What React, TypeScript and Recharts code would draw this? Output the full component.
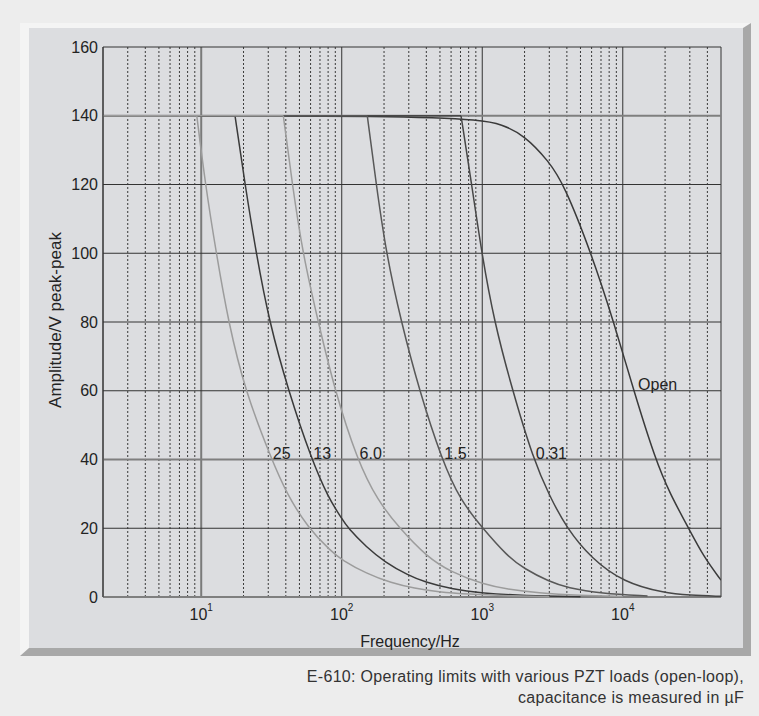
import { LineChart, Line, XAxis, YAxis, ReferenceLine, ReferenceDot } from 'recharts'

const FONT = '"Liberation Sans", Arial, Helvetica, sans-serif'
const INK = '#232323'

const Y_TICKS = [0, 20, 40, 60, 80, 100, 120, 140, 160]
const X_TICKS = [10, 100, 1000, 10000]
const MINOR_X = [
  3, 4, 5, 6, 7, 8, 9,
  20, 30, 40, 50, 60, 70, 80, 90,
  200, 300, 400, 500, 600, 700, 800, 900,
  2000, 3000, 4000, 5000, 6000, 7000, 8000, 9000,
  20000, 30000, 40000,
]
const THIN_Y = [20, 60, 80, 100, 120, 160]
const THICK_Y = [0, 40, 140]

// amplitude (V peak-peak) against frequency (Hz)
// first two points of each capacitive load = flat limit up to the corner
const C25 = [
  { f: 2, v: 140 }, { f: 9.3, v: 140 }, { f: 10.7, v: 120 }, { f: 12.8, v: 100 },
  { f: 15.6, v: 80 }, { f: 20.5, v: 60 }, { f: 31.7, v: 40 }, { f: 40.6, v: 30 },
  { f: 57.8, v: 20 }, { f: 84.5, v: 13.2 }, { f: 100, v: 10.8 }, { f: 150, v: 6.8 },
  { f: 225, v: 4.1 }, { f: 330, v: 2.5 }, { f: 483, v: 1.5 }, { f: 800, v: 0.8 },
  { f: 1500, v: 0.35 }, { f: 3000, v: 0.1 },
]
const C13 = [
  { f: 2, v: 140 }, { f: 17.4, v: 140 }, { f: 20.5, v: 120 }, { f: 24.6, v: 100 },
  { f: 30.5, v: 80 }, { f: 41.7, v: 60 }, { f: 61, v: 40 }, { f: 80, v: 29 },
  { f: 100, v: 22.8 }, { f: 111, v: 20 }, { f: 150, v: 14.5 }, { f: 202, v: 10.2 },
  { f: 300, v: 6.2 }, { f: 388, v: 4.4 }, { f: 600, v: 2.3 }, { f: 1000, v: 1.1 },
  { f: 2000, v: 0.4 }, { f: 5000, v: 0.1 },
]
const C6 = [
  { f: 2, v: 140 }, { f: 38.4, v: 140 }, { f: 44.5, v: 120 }, { f: 52.7, v: 100 },
  { f: 68, v: 80 }, { f: 89.4, v: 60 }, { f: 128.5, v: 40 }, { f: 180, v: 28 },
  { f: 258, v: 20 }, { f: 400, v: 11.8 }, { f: 600, v: 7.2 }, { f: 1030, v: 3.6 },
  { f: 1500, v: 2.3 }, { f: 2470, v: 1.2 }, { f: 5000, v: 0.45 }, { f: 10000, v: 0.15 },
]
const C15 = [
  { f: 2, v: 140 }, { f: 152, v: 140 }, { f: 176, v: 120 }, { f: 207, v: 100 },
  { f: 265, v: 80 }, { f: 357, v: 60 }, { f: 515, v: 40 }, { f: 700, v: 28 },
  { f: 1007, v: 20 }, { f: 1500, v: 12 }, { f: 1987, v: 8.2 }, { f: 3000, v: 4.5 },
  { f: 4036, v: 2.7 }, { f: 7000, v: 1 }, { f: 15000, v: 0.3 },
]
const C031 = [
  { f: 2, v: 140 }, { f: 706, v: 140 }, { f: 841, v: 120 }, { f: 991, v: 100 },
  { f: 1217, v: 80 }, { f: 1644, v: 60 }, { f: 2312, v: 40 }, { f: 3000, v: 29.5 },
  { f: 3991, v: 20 }, { f: 5970, v: 11.2 }, { f: 10190, v: 4.2 }, { f: 19540, v: 1.2 },
  { f: 30000, v: 0.5 }, { f: 50000, v: 0.2 },
]
const COPEN = [
  { f: 2, v: 140 }, { f: 300, v: 140 }, { f: 1000, v: 138.7 }, { f: 1355, v: 137.6 },
  { f: 1987, v: 134.4 }, { f: 2985, v: 126.7 }, { f: 3819, v: 120 }, { f: 5970, v: 100 },
  { f: 8630, v: 80 }, { f: 11970, v: 60 }, { f: 17060, v: 40 }, { f: 21680, v: 30 },
  { f: 29400, v: 20 }, { f: 37500, v: 11.8 }, { f: 50000, v: 4.9 },
]

const SERIES = [
  { name: 'Open', data: COPEN, color: '#3a3a3a', corner: false },
  { name: '0.31', data: C031, color: '#474747', corner: true },
  { name: '1.5', data: C15, color: '#585858', corner: true },
  { name: '13', data: C13, color: '#3a3a3a', corner: true },
  { name: '6.0', data: C6, color: '#9c9c9c', corner: true },
  { name: '25', data: C25, color: '#9c9c9c', corner: true },
]

const LABEL_TEXT = ['25', '13', '6.0', '1.5', '0.31', 'Open']
const LABEL_F = [32.3, 62.7, 134, 537, 2404, 12850]
const LABEL_V = [40, 40, 40, 40, 40, 60]

function XTick({ x, y, payload }: any) {
  const exp = Math.round(Math.log10(payload.value))
  return (
    <text x={x} y={y + 15} textAnchor="middle" fontFamily={FONT} fontSize={16} fill={INK}>
      10<tspan dy={-9} fontSize={10}>{exp}</tspan>
    </text>
  )
}

function curveLine(key: string, data: { f: number; v: number }[], color: string, type: 'linear' | 'basis') {
  return (
    <Line
      key={key}
      data={data}
      dataKey="v"
      type={type}
      stroke={color}
      strokeWidth={1.5}
      dot={false}
      activeDot={false}
      isAnimationActive={false}
    />
  )
}

export default function App() {
  return (
    <div style={{ position: 'absolute', left: 0, top: 0, width: 759, height: 716, background: '#ededed', fontFamily: FONT }}>
      <div
        style={{
          position: 'absolute', left: 20, top: 23, width: 714, height: 620,
          background: '#dcdde0',
          borderLeft: '9px solid #f4f4f4', borderTop: '5px solid #f4f4f4',
          borderRight: '8px solid #a8a8a8', borderBottom: '8px solid #a8a8a8',
        }}
      />
      <div style={{ position: 'absolute', left: 0, top: 0 }}>
        <LineChart width={759} height={716} margin={{ top: 47, right: 38, bottom: 59, left: 0 }}>
          <XAxis
            dataKey="f"
            type="number"
            scale="log"
            domain={[2, 50000]}
            allowDataOverflow
            ticks={X_TICKS}
            tick={<XTick />}
            tickLine={false}
            axisLine={false}
            height={60}
            label={{
              content: () => (
                <text x={410} y={647} textAnchor="middle" fontFamily={FONT} fontSize={16} fill={INK}>Frequency/Hz</text>
              ),
            }}
          />
          <YAxis
            type="number"
            domain={[0, 160]}
            ticks={Y_TICKS}
            width={103}
            tickLine={false}
            tickSize={3}
            tickMargin={2}
            axisLine={{ stroke: '#333' }}
            tick={{ fontSize: 16, fill: INK, fontFamily: FONT }}
            label={{
              content: () => (
                <text transform="translate(61,320) rotate(-90)" x={0} y={0} textAnchor="middle" fontFamily={FONT} fontSize={17} fill={INK}>
                  Amplitude/V peak-peak
                </text>
              ),
            }}
          />
          {MINOR_X.map((v) => (
            <ReferenceLine key={'mx' + v} x={v} stroke="#3a3a3a" strokeDasharray="2 2" strokeWidth={1} />
          ))}
          {X_TICKS.map((v) => (
            <ReferenceLine key={'Mx' + v} x={v} stroke={v === 10 ? '#7a7a7a' : '#333'} strokeWidth={v === 10 ? 2 : 1} />
          ))}
          <ReferenceLine x={2} stroke="#333" />
          <ReferenceLine x={50000} stroke="#333" />
          {THIN_Y.map((v) => (
            <ReferenceLine key={'ty' + v} y={v} stroke="#333" strokeWidth={1} />
          ))}
          {THICK_Y.map((v) => (
            <ReferenceLine key={'Ty' + v} y={v} stroke="#7f7f7f" strokeWidth={2} />
          ))}
          {SERIES.map((s) =>
            s.corner
              ? [
                  curveLine(s.name + '-flat', s.data.slice(0, 2), s.color, 'linear'),
                  curveLine(s.name + '-roll', s.data.slice(1), s.color, 'basis'),
                ]
              : curveLine(s.name, s.data, s.color, 'basis')
          )}
          {LABEL_TEXT.map((t, i) => (
            <ReferenceDot
              key={'lb' + t}
              x={LABEL_F[i]}
              y={LABEL_V[i]}
              r={0}
              fill="none"
              stroke="none"
              label={{
                content: (p: any) => (
                  <text x={p.viewBox.x} y={p.viewBox.y - 1} fontFamily={FONT} fontSize={16} fill={INK}>{t}</text>
                ),
              }}
            />
          ))}
        </LineChart>
      </div>
      <div style={{ position: 'absolute', right: 15, top: 666, textAlign: 'right', fontSize: 16, lineHeight: '21px', color: '#333', letterSpacing: 0.3 }}>
        E-610: Operating limits with various PZT loads (open-loop),
        <br />
        capacitance is measured in µF
      </div>
    </div>
  )
}
